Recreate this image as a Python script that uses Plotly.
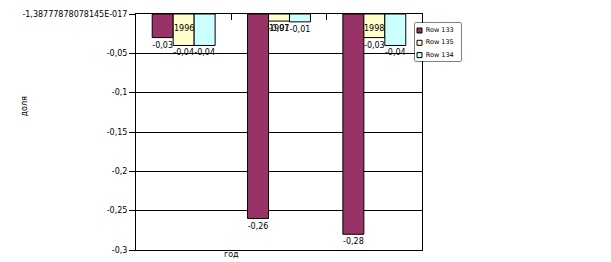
import plotly.graph_objects as go

categories = ["1996", "1997", "1998"]
series_names = ["Row 133", "Row 135", "Row 134"]
row133 = [-0.03, -0.26, -0.28]
row135 = [-0.04, -0.009, -0.03]
row134 = [-0.04, -0.01, -0.04]
colors = ["#993366", "#FFFFCC", "#CCFFFF"]
ytickvals = [0, -0.05, -0.1, -0.15, -0.2, -0.25, -0.3]
yticktext = ["-1,38777878078145E-017", "-0,05", "-0,1", "-0,15", "-0,2", "-0,25", "-0,3"]

FONT = "DejaVu Sans"
W, H = 611, 262
ML, MR, MT, MB = 136, 140, 14, 12
PW = W - ML - MR
PH = H - MT - MB
MAIN_RIGHT = 422
LEG = (415, 461, 23, 61)  # left, right, top, bottom in px

def px_x(p):
    return (p - ML) / PW

def px_y(p):
    return (H - MB - p) / PH

fig = go.Figure()
for name, vals, col in zip(series_names, [row133, row135, row134], colors):
    fig.add_trace(go.Bar(
        x=categories, y=vals, name=name, showlegend=False,
        marker=dict(color=col, line=dict(color="black", width=1)),
        texttemplate="%{y:.2f}", textposition="outside",
        textfont=dict(family=FONT, size=8, color="black"),
        constraintext="none", cliponaxis=False,
    ))

# custom compact legend drawn on its own small axis
fig.add_trace(go.Scatter(
    x=[4.5] * len(series_names), y=[7.5 + 12.3 * i for i in range(len(series_names))],
    xaxis="x3", yaxis="y3", mode="markers+text",
    text=[" " + n for n in series_names], textposition="middle right",
    textfont=dict(family=FONT, size=6.5, color="black"),
    marker=dict(symbol="square", size=5, color=colors, line=dict(color="black", width=1)),
    showlegend=False, hoverinfo="skip", cliponaxis=False,
))

annotations = []
for i, c in enumerate(categories):
    annotations.append(dict(x=i, y=0, xref="x", yref="y", text=c, showarrow=False,
                            yanchor="middle", yshift=-14,
                            font=dict(family=FONT, size=8, color="black")))
annotations.append(dict(x=px_x(222), y=0, xref="paper", yref="paper", text="год", showarrow=False,
                        yanchor="top", yshift=2,
                        font=dict(family=FONT, size=8, color="black")))
annotations.append(dict(x=px_x(18), y=px_y(106), xref="paper", yref="paper", text="доля",
                        showarrow=False, textangle=-90,
                        font=dict(family=FONT, size=8, color="black")))

fig.update_layout(
    width=W, height=H,
    margin=dict(l=ML, r=MR, t=MT, b=MB, autoexpand=False),
    paper_bgcolor="white", plot_bgcolor="white",
    separators=", ",
    barmode="group", bargap=0.34, bargroupgap=0,
    font=dict(family=FONT, size=8, color="black"),
    showlegend=False,
    annotations=annotations,
    shapes=[dict(type="rect", xref="paper", yref="paper",
                 x0=px_x(LEG[0]), x1=px_x(LEG[1]), y0=px_y(LEG[3]), y1=px_y(LEG[2]),
                 fillcolor="white", line=dict(color="black", width=1), layer="between")],
    xaxis=dict(type="category", domain=[0, px_x(MAIN_RIGHT)],
               side="top", ticks="inside", tickson="boundaries", ticklen=6,
               tickcolor="black", showticklabels=False, showline=True,
               linecolor="black", linewidth=1, mirror=True, showgrid=False,
               range=[-0.5, 2.5], automargin=False),
    yaxis=dict(range=[-0.3, 0], tickvals=ytickvals, ticktext=yticktext,
               ticks="outside", ticklen=6, tickcolor="black",
               showgrid=True, gridcolor="black", gridwidth=1,
               zeroline=False, showline=True, linecolor="black", linewidth=1,
               mirror=True, automargin=False,
               tickfont=dict(family=FONT, size=8, color="black")),
    xaxis3=dict(domain=[px_x(LEG[0]), px_x(LEG[1])], range=[0, LEG[1] - LEG[0]], anchor="y3",
                visible=False, fixedrange=True),
    yaxis3=dict(domain=[px_y(LEG[3]), px_y(LEG[2])], range=[LEG[3] - LEG[2], 0], anchor="x3",
                visible=False, fixedrange=True),
)
fig.write_html("out.html")
